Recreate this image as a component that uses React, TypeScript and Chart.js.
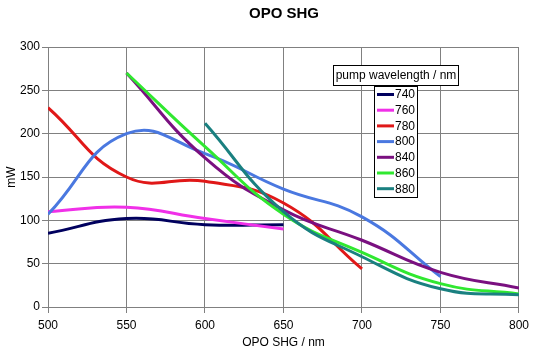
import React, { useEffect, useRef } from "react";
import { Chart, registerables } from "chart.js";

Chart.register(...registerables);

const xValues = [500, 550, 600, 650, 700, 750, 800];
const seriesLabels = ["740", "760", "780", "800", "840", "860", "880"];
const s740 = [85, 102, 95, 95, null, null, null];
const s760 = [110, 115, 102, 90, null, null, null];
const s780 = [230, 150, 145, 120, 44, null, null];
const s800 = [107, 200, 177, 136, 104, 35, null];
const s840 = [null, 270, 172, 112, 77, 40, 22];
const s860 = [null, 270, 185, 107, 63, 27, 15];
const s880 = [null, null, 212, 110, 58, 21, 14];
const seriesValues = [s740, s760, s780, s800, s840, s860, s880];
const colors = ["#00005e", "#f030e8", "#e01818", "#4a78e0", "#7a1080", "#30e830", "#1a8080"];
const xTicks = [500, 550, 600, 650, 700, 750, 800];
const yTicks = [0, 50, 100, 150, 200, 250, 300];

const FONT = "'Liberation Sans', Arial, sans-serif";

const overlayPlugin = {
  id: "overlay",
  afterDraw(chart: any) {
    const ctx = chart.ctx;
    ctx.save();
    ctx.fillStyle = "#000";
    ctx.font = `bold 15px ${FONT}`;
    ctx.textAlign = "center";
    ctx.textBaseline = "middle";
    ctx.fillText("OPO SHG", 284, 14);
    ctx.fillStyle = "#fff";
    ctx.fillRect(333.5, 65.5, 125, 20);
    ctx.strokeStyle = "#000";
    ctx.lineWidth = 1;
    ctx.strokeRect(333.5, 65.5, 125, 20);
    ctx.fillStyle = "#000";
    ctx.font = `12px ${FONT}`;
    ctx.textAlign = "center";
    ctx.fillText("pump wavelength / nm", 396, 76);
    ctx.fillStyle = "#fff";
    ctx.fillRect(374.5, 86.5, 43, 111);
    ctx.strokeRect(374.5, 86.5, 43, 111);
    ctx.textAlign = "left";
    chart.data.datasets.forEach((ds: any, i: number) => {
      const y = 94.5 + i * 15.7;
      ctx.strokeStyle = ds.borderColor;
      ctx.lineWidth = 3;
      ctx.beginPath();
      ctx.moveTo(377, y);
      ctx.lineTo(394, y);
      ctx.stroke();
      ctx.fillStyle = "#000";
      ctx.fillText(ds.label, 395, y + 0.5);
    });
    ctx.restore();
  },
};

export default function App() {
  const ref = useRef<HTMLCanvasElement>(null);
  useEffect(() => {
    document.body.style.margin = "0";
    const n = seriesLabels.length;
    const chart = new Chart(ref.current!, {
      type: "line",
      data: {
        datasets: seriesLabels.map((label, i) => ({
          label,
          data: xValues
            .map((x, j) => ({ x, y: seriesValues[i][j] }))
            .filter((p) => p.y !== null) as any,
          borderColor: colors[i],
          backgroundColor: colors[i],
          borderWidth: 3,
          pointRadius: 0,
          tension: 0.45,
          fill: false,
          order: n - i,
        })),
      },
      options: {
        animation: false,
        responsive: false,
        maintainAspectRatio: false,
        layout: { padding: { top: 47, left: 4, right: 14, bottom: 0 } },
        plugins: {
          legend: { display: false },
          title: { display: false },
          tooltip: { enabled: false },
        },
        scales: {
          x: {
            type: "linear",
            min: 500,
            max: 800,
            afterBuildTicks: (s: any) => {
              s.ticks = xTicks.map((v) => ({ value: v }));
            },
            afterFit: (s: any) => {
              s.height = 43;
            },
            ticks: {
              color: "#000",
              font: { family: FONT, size: 12 },
              padding: 5,
              maxRotation: 0,
            },
            grid: { color: "#808080", tickLength: 6, drawTicks: true },
            border: { color: "#808080" },
            title: {
              display: true,
              text: "OPO SHG / nm",
              color: "#000",
              font: { family: FONT, size: 12 },
              padding: { top: 2, bottom: 0 },
            },
          },
          y: {
            min: 0,
            max: 300,
            afterBuildTicks: (s: any) => {
              s.ticks = yTicks.map((v) => ({ value: v }));
            },
            afterFit: (s: any) => {
              s.width = 44;
            },
            ticks: {
              color: "#000",
              font: { family: FONT, size: 12 },
              padding: 2,
            },
            grid: { color: "#808080", tickLength: 6 },
            border: { color: "#808080" },
            title: {
              display: true,
              text: "mW",
              color: "#000",
              font: { family: FONT, size: 12 },
              padding: { top: 0, bottom: 0 },
            },
          },
        },
      },
      plugins: [overlayPlugin],
    });
    return () => chart.destroy();
  }, []);
  return (
    <div style={{ width: 534, height: 350, background: "#fff" }}>
      <canvas ref={ref} width={534} height={350} style={{ width: 534, height: 350 }} />
    </div>
  );
}
